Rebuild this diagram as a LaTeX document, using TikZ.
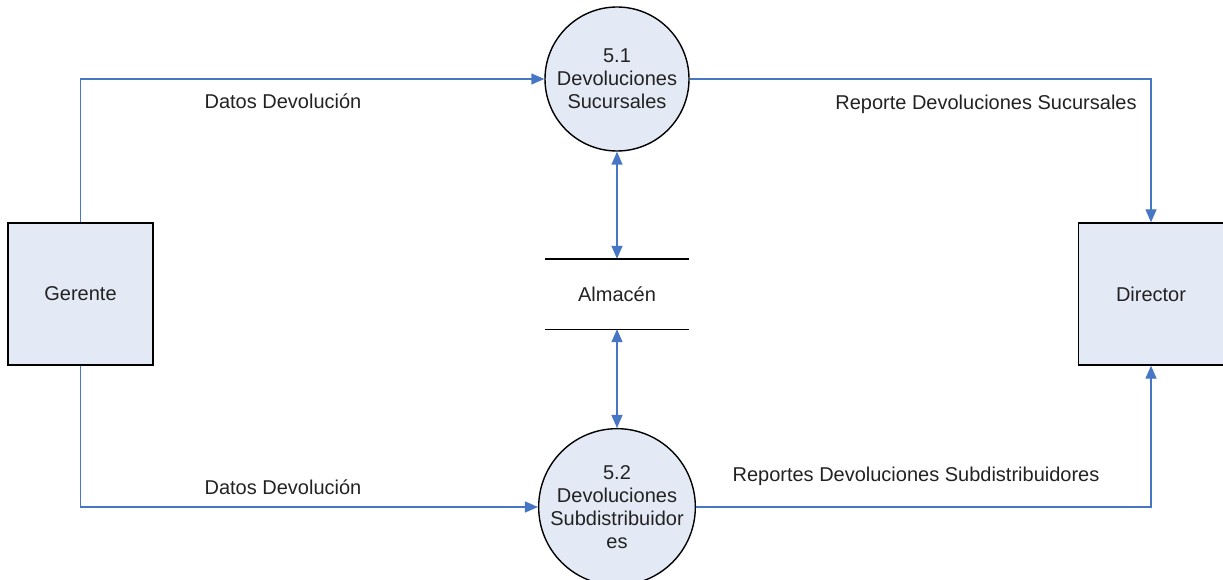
\documentclass[tikz,border=0pt]{standalone}
\usepackage{fontspec}
\setmainfont{Liberation Sans}
\usetikzlibrary{arrows.meta}
\definecolor{flowblue}{HTML}{4676C4}
\definecolor{shapefill}{HTML}{E4EAF5}
\definecolor{textgray}{HTML}{222222}
\tikzset{
  every node/.style={font=\fontsize{20}{23}\selectfont, text=textgray},
  process/.style={circle, draw=black, line width=1.4pt, fill=shapefill,
    minimum size=144pt, inner sep=0pt, align=center},
  entity/.style={rectangle, draw=black, line width=1.4pt, fill=shapefill,
    minimum width=145pt, minimum height=142pt, inner sep=0pt},
  datastore/.style={rectangle, minimum width=143pt, minimum height=70pt, inner sep=0pt},
  flow/.style={draw=flowblue, line width=1.4pt, -{Triangle[length=13pt,width=11pt]}},
  dflow/.style={draw=flowblue, line width=1.4pt,
    {Triangle[length=13pt,width=11pt]}-{Triangle[length=13pt,width=11pt]}},
  flowlabel/.style={inner sep=0pt}
}
\begin{document}
\begin{tikzpicture}[x=1pt,y=-1pt]
  \useasboundingbox (0,0) rectangle (1223,580);

  % processes
  \node[process] (p1) at (617,79) {5.1\\Devoluciones\\Sucursales};
  \node[process] (p2) at (617,507) {5.2\\Devoluciones\\Subdistribuidor\\es};

  % external entities
  \node[entity] (ger) at (80.5,294) {Gerente};
  \node[entity] (dir) at (1151,294) {Director};

  % data store
  \node[datastore] (alm) at (617,294) {Almacén};
  \draw[line width=1.4pt] (alm.north west) -- (alm.north east);
  \draw[line width=1.4pt] (alm.south west) -- (alm.south east);

  % data flows
  \draw[flow] (ger.north) |- (p1.west);
  \draw[flow] (p1.east) -| (dir.north);
  \draw[flow] (ger.south) |- (p2.west);
  \draw[flow] (p2.east) -| (dir.south);
  \draw[dflow] (p1.south) -- (alm.north);
  \draw[dflow] (alm.south) -- (p2.north);

  % flow labels
  \node[flowlabel] (l1) at (283,101) {Datos Devolución};
  \node[flowlabel] (l2) at (986,104) {Reporte Devoluciones Sucursales};
  \node[flowlabel] (l3) at (283,487) {Datos Devolución};
  \node[flowlabel] (l4) at (916,476) {Reportes Devoluciones Subdistribuidores};
\end{tikzpicture}
\end{document}
